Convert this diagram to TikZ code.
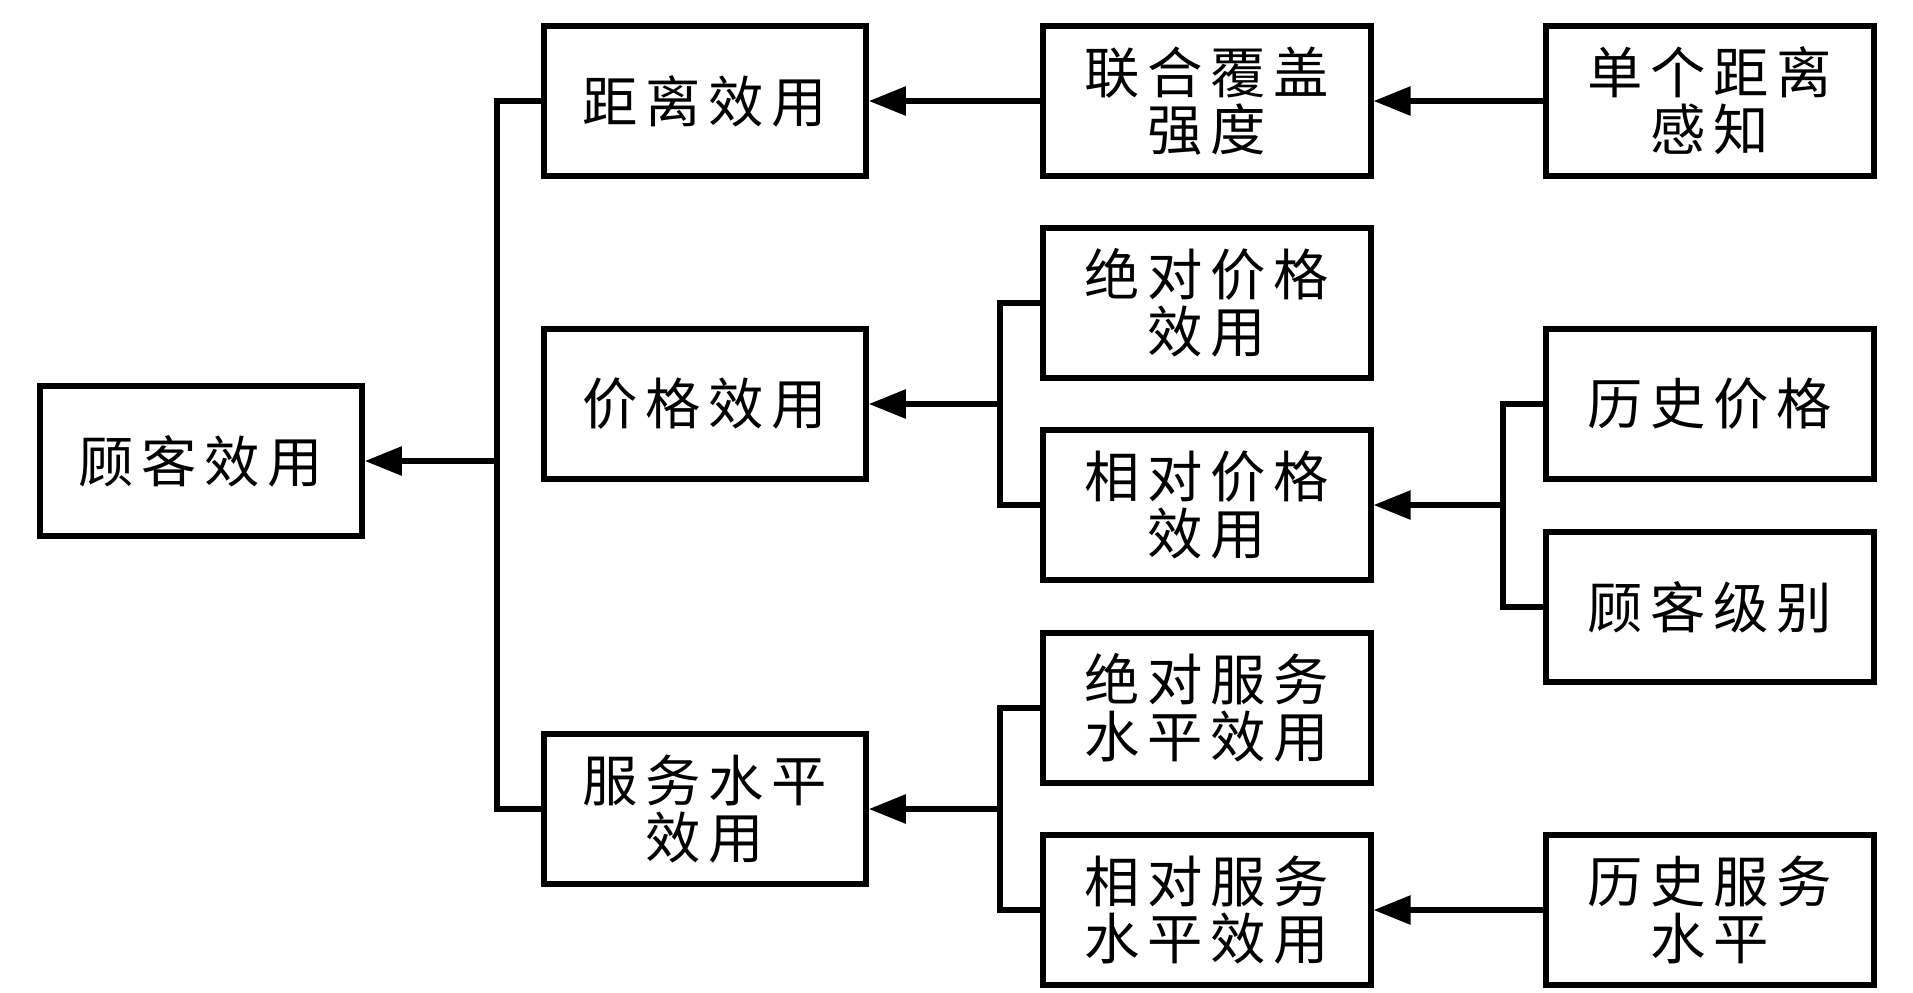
\documentclass[tikz,border=0pt]{standalone}
\usepackage{fontspec}
\newfontfamily\cjk[LetterSpace=14]{Noto Sans CJK SC}
\usetikzlibrary{arrows.meta}
\begin{document}
\begin{tikzpicture}[x=0.02cm,y=-0.02cm,
  box/.style={draw, line width=3.2pt, inner sep=0pt, align=center,
    minimum height=3.0cm, font=\cjk\fontsize{31.5}{32.5}\selectfont},
  boxa/.style={box, minimum width=6.44cm},
  boxb/.style={box, minimum width=6.55cm},
  conn/.style={line width=3.2pt},
  arr/.style={line width=3.2pt, -{Triangle[length=0.74cm,width=0.56cm]}}]
\useasboundingbox (0,0) rectangle (1913,992);
% column 1
\node[boxa] (cust) at (201,461) {顾客效用};
% column 2
\node[boxa] (dist) at (705,101) {距离效用};
\node[boxa] (price) at (705,404) {价格效用};
\node[boxa] (svc) at (705,809) {服务水平\\效用};
% column 3
\node[boxb] (jc) at (1207,101) {联合覆盖\\强度};
\node[boxb] (ap) at (1207,303) {绝对价格\\效用};
\node[boxb] (rp) at (1207,505) {相对价格\\效用};
\node[boxb] (as) at (1207,708) {绝对服务\\水平效用};
\node[boxb] (rs) at (1207,910) {相对服务\\水平效用};
% column 4
\node[boxb] (sd) at (1710,101) {单个距离\\感知};
\node[boxb] (hp) at (1710,404) {历史价格};
\node[boxb] (cl) at (1710,607) {顾客级别};
\node[boxb] (hs) at (1710,910) {历史服务\\水平};
% junction coordinates
\coordinate (t0) at (497,461);
\coordinate (tp) at (1000,404);
\coordinate (ts) at (1000,809);
\coordinate (tr) at (1503,505);
% connectors
\draw[conn] (dist.west) -| (t0) |- (svc.west);
\draw[arr] (t0) -- (cust.east);
\draw[arr] (jc.west) -- (dist.east);
\draw[arr] (sd.west) -- (jc.east);
\draw[conn] (ap.west) -| (tp) |- (rp.west);
\draw[arr] (tp) -- (price.east);
\draw[conn] (hp.west) -| (tr) |- (cl.west);
\draw[arr] (tr) -- (rp.east);
\draw[conn] (as.west) -| (ts) |- (rs.west);
\draw[arr] (ts) -- (svc.east);
\draw[arr] (hs.west) -- (rs.east);
\end{tikzpicture}
\end{document}
